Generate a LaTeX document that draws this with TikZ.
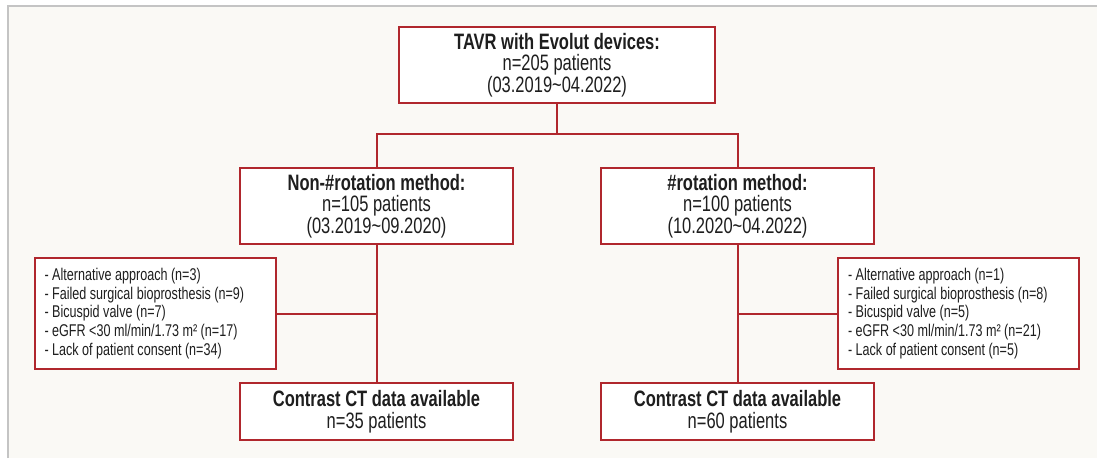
\documentclass[tikz,border=0pt]{standalone}
\usepackage{fontspec}
\setmainfont{Liberation Sans}[FakeStretch=0.74]
\usepackage{tikz}
\usetikzlibrary{positioning,calc}
\usepackage{xcolor}

\definecolor{boxred}{HTML}{B0272D}
\definecolor{panelbg}{HTML}{FAF9F5}
\definecolor{panelline}{HTML}{C4C4C4}
\definecolor{inkcol}{HTML}{1E1E1E}

\tikzset{
  flowbox/.style={draw=boxred, fill=white, line width=2pt, inner sep=0pt,
    align=center, text=inkcol, font=\fontsize{22.3}{21.5}\selectfont},
  exclbox/.style={draw=boxred, fill=white, line width=2pt, inner ysep=0pt,
    inner xsep=10pt, text width=221pt, align=flush left, text=inkcol,
    font=\fontsize{17}{18.6}\selectfont},
  link/.style={draw=boxred, line width=2pt},
}

\begin{document}
\begin{tikzpicture}[x=1pt, y=-1pt]
  \useasboundingbox (0,0) rectangle (1097,458);
  %% panel
  \fill[panelbg] (8,6) rectangle (1097,458);
  \draw[panelline, line width=2pt] (8,458) -- (8,6) -- (1097,6);

  %% top level
  \node[flowbox, minimum width=316pt, minimum height=76pt] (tavr) at (557,65)
    {{\bfseries TAVR with Evolut devices:}\\n=205 patients\\(03.2019\textasciitilde 04.2022)};
  \coordinate (split) at (557,134);

  %% two methods
  \node[flowbox, minimum width=273pt, minimum height=76pt] (nonrot) at (376.5,206)
    {{\bfseries Non-\#rotation method:}\\n=105 patients\\(03.2019\textasciitilde 09.2020)};
  \node[flowbox, minimum width=273pt, minimum height=76pt] (rot) at (737.5,206)
    {{\bfseries \#rotation method:}\\n=100 patients\\(10.2020\textasciitilde 04.2022)};

  %% exclusions
  \node[exclbox, minimum height=111pt] (exclL) at (155,313.5)
    {- Alternative approach (n=3)\\
     - Failed surgical bioprosthesis (n=9)\\
     - Bicuspid valve (n=7)\\
     - eGFR <30 ml/min/1.73 m² (n=17)\\
     - Lack of patient consent (n=34)};
  \node[exclbox, minimum height=111pt] (exclR) at (958.5,313.5)
    {- Alternative approach (n=1)\\
     - Failed surgical bioprosthesis (n=8)\\
     - Bicuspid valve (n=5)\\
     - eGFR <30 ml/min/1.73 m² (n=21)\\
     - Lack of patient consent (n=5)};

  %% final cohorts
  \node[flowbox, minimum width=273pt, minimum height=57pt] (ctL) at (376.5,411.5)
    {{\bfseries Contrast CT data available}\\n=35 patients};
  \node[flowbox, minimum width=273pt, minimum height=57pt] (ctR) at (737.5,411.5)
    {{\bfseries Contrast CT data available}\\n=60 patients};

  %% connectors
  \draw[link] (tavr.south) -- (split);
  \draw[link] (nonrot.north) |- (split) -| (rot.north);
  \draw[link] (nonrot.south) -- (ctL.north);
  \draw[link] (rot.south) -- (ctR.north);
  \draw[link] (exclL.east) -- (exclL.east -| nonrot.south);
  \draw[link] (exclR.west) -- (exclR.west -| rot.south);
\end{tikzpicture}
\end{document}
